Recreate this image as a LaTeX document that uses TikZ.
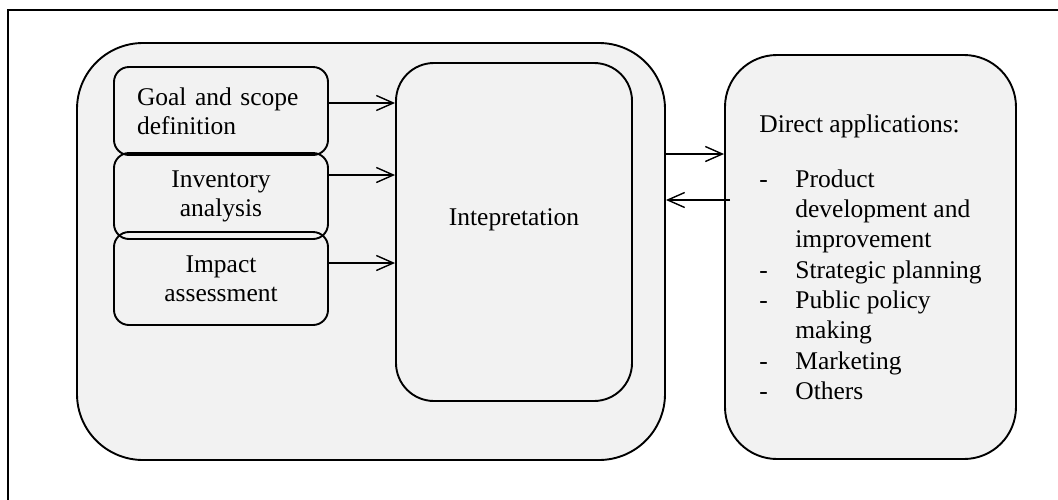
\documentclass[tikz,border=0pt]{standalone}
\usepackage{fontspec}
\setmainfont{Liberation Serif}
\usetikzlibrary{arrows.meta}
\definecolor{boxgray}{RGB}{242,242,242}
\begin{document}
\begin{tikzpicture}[x=1pt,y=-1pt,
  box/.style={draw, line width=1.9pt, rounded corners=15pt, inner sep=0pt, align=center,
    font=\fontsize{25.5}{29}\selectfont},
  bigbox/.style={box, fill=boxgray},
  txt/.style={inner sep=0pt, font=\fontsize{25.5}{29}\selectfont},
  arr/.style={line width=1.4pt, -{Straight Barb[length=17pt,width=15pt,line width=1.4pt]}}
]
\useasboundingbox (0,0) rectangle (1058,499);
% frame
\draw[line width=1.9pt] (1060,10) -- (8,10) -- (8,501);
% big box
\node[bigbox, rounded corners=66pt, minimum width=588pt, minimum height=417pt] (big) at (371,251.5) {};
% left boxes
\node[box, minimum width=214pt, minimum height=88pt, text width=168pt, align=left] (goal) at (221,111) {Goal and scope\\definition};
\node[box, minimum width=214pt, minimum height=86pt] (inv) at (221,196) {Inventory\\analysis};
\node[box, minimum width=214pt, minimum height=93pt] (imp) at (221,278.5) {Impact\\assessment};
% interpretation
\node[box, rounded corners=38pt, minimum width=236pt, minimum height=338pt] (interp) at (514,232) {};
\node[txt] (interpt) at (514,220) {Intepretation};
% applications
\node[bigbox, rounded corners=52pt, minimum width=291pt, minimum height=404pt, align=left,
  font=\fontsize{25.5}{30.3}\selectfont] (app) at (870.5,257)
  {Direct applications:\\[25pt]
   \makebox[36pt][l]{-}Product\\
   \hspace*{36pt}development and\\
   \hspace*{36pt}improvement\\
   \makebox[36pt][l]{-}Strategic planning\\
   \makebox[36pt][l]{-}Public policy\\
   \hspace*{36pt}making\\
   \makebox[36pt][l]{-}Marketing\\
   \makebox[36pt][l]{-}Others};
% arrows
\draw[arr] (goal.east |- 0,103) -- (interp.west |- 0,103);
\draw[arr] (inv.east |- 0,175) -- (interp.west |- 0,175);
\draw[arr] (imp.east |- 0,263) -- (interp.west |- 0,263);
\draw[arr] (big.east |- 0,154) -- (app.west |- 0,154);
\coordinate (appin) at (730,200);
\draw[arr] (appin) -- (big.east |- appin);
\end{tikzpicture}
\end{document}
